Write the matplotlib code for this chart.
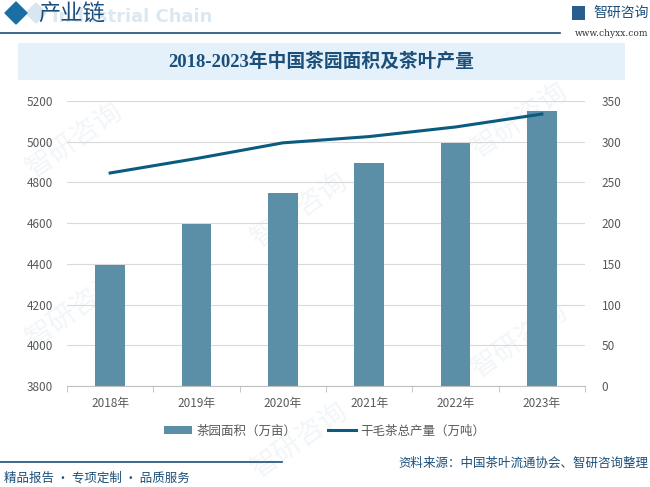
import matplotlib
matplotlib.use("Agg")
import matplotlib.pyplot as plt
from matplotlib.patches import Rectangle, Polygon
from matplotlib.lines import Line2D
import numpy as np

plt.rcParams['font.family'] = ['Noto Sans CJK SC', 'DejaVu Sans']

# data
years = ["2018年", "2019年", "2020年", "2021年", "2022年", "2023年"]
garden_area = [4395.6, 4597.87, 4747.69, 4896.09, 4995.41, 5149.76]   # 万亩
tea_output = [261.6, 279.34, 298.6, 306.32, 318.1, 333.95]             # 万吨
left_ticks = [3800, 4000, 4200, 4400, 4600, 4800, 5000, 5200]
right_ticks = [0, 50, 100, 150, 200, 250, 300, 350]

BAR_COLOR = "#5b8fa7"
LINE_COLOR = "#0b5b80"
DARK_BLUE = "#1b4f7a"
TEXT_GRAY = "#595959"

W, H = 650, 487
fig = plt.figure(figsize=(W / 100, H / 100), dpi=100)
fig.patch.set_facecolor("white")


def fx(px):
    return px / W


def fy(py):
    return 1 - py / H


# faint watermarks (behind the axes)
for (wx, wy) in [(75, 140), (75, 310), (300, 210), (300, 440), (520, 120), (520, 340)]:
    fig.text(fx(wx), fy(wy), "智研咨询", fontsize=20, color="#f2f6f9", rotation=35,
             ha="center", va="center", zorder=-5)

# header
fig.patches.append(Polygon([[fx(26), fy(13)], [fx(36), fy(3)], [fx(46), fy(13)], [fx(36), fy(23)]],
                           closed=True, transform=fig.transFigure, color="#d8e6f0", zorder=1))
fig.patches.append(Polygon([[fx(5), fy(13)], [fx(16), fy(2)], [fx(27), fy(13)], [fx(16), fy(24)]],
                           closed=True, transform=fig.transFigure, color="#1a6fa5", zorder=2))
fig.text(fx(52), fy(17), "Industrial Chain", fontsize=13, fontweight="bold", color="#dce8f1",
         ha="left", va="center", zorder=1, family="DejaVu Sans")
fig.text(fx(38), fy(14), "产业链", fontsize=16, color=DARK_BLUE, ha="left", va="center", zorder=3)
fig.lines.append(Line2D([0, fx(560)], [fy(33), fy(33)], transform=fig.transFigure,
                        color=DARK_BLUE, lw=1.2))
fig.text(fx(593), fy(13), "智研咨询", fontsize=10, color=DARK_BLUE, ha="left", va="center")
fig.patches.append(Rectangle((fx(572), fy(20)), fx(13), 14 / H, transform=fig.transFigure,
                             facecolor="#2a5d8f", edgecolor="none"))
fig.text(fx(648), fy(33), "www.chyxx.com", fontsize=6.5, color="#333333", ha="right", va="center",
         family="DejaVu Serif")

# title box
fig.patches.append(Rectangle((fx(18), fy(80)), fx(607), 37 / H, transform=fig.transFigure,
                             facecolor="#e5f1fa", edgecolor="none", zorder=0))
fig.text(fx(321), fy(62), "2018-2023年中国茶园面积及茶叶产量", fontsize=13.5, fontweight="bold",
         color=DARK_BLUE, ha="center", va="center", family=["Liberation Serif", "Noto Sans CJK SC"])

# main axes
ax = fig.add_axes([fx(67), fy(386), fx(585 - 67), (386 - 101) / H])
ax.set_facecolor("none")
x = np.arange(len(years))
ax.bar(x, garden_area, width=0.34, color=BAR_COLOR, zorder=2, label="茶园面积（万亩）")
ax.set_ylim(3800, 5200)
ax.set_yticks(left_ticks)
ax.set_xlim(-0.5, len(years) - 0.5)
ax.set_xticks(x)
ax.set_xticklabels(years)
ax.set_xticks(np.arange(-0.5, len(years), 1), minor=True)
ax.tick_params(axis="x", which="major", length=0, pad=8, labelsize=8.5, labelcolor=TEXT_GRAY)
ax.tick_params(axis="x", which="minor", length=4, color="#bfbfbf")
ax.tick_params(axis="y", length=0, pad=10, labelsize=8.5, labelcolor=TEXT_GRAY)
ax.grid(axis="y", color="#d9d9d9", lw=0.8, zorder=0)
for s in ["top", "right", "left"]:
    ax.spines[s].set_visible(False)
ax.spines["bottom"].set_color("#bfbfbf")

ax2 = ax.twinx()
ax2.plot(x, tea_output, color=LINE_COLOR, lw=2.2, zorder=3, label="干毛茶总产量（万吨）")
ax2.set_ylim(0, 350)
ax2.set_yticks(right_ticks)
ax2.tick_params(axis="y", length=0, pad=12, labelsize=8.5, labelcolor=TEXT_GRAY)
for s in ["top", "right", "left", "bottom"]:
    ax2.spines[s].set_visible(False)

# legend
h1, l1 = ax.get_legend_handles_labels()
h2, l2 = ax2.get_legend_handles_labels()
fig.legend(h1 + h2, l1 + l2, loc="center", bbox_to_anchor=(fx(325), fy(431)), ncol=2,
           frameon=False, fontsize=9, labelcolor=TEXT_GRAY, handlelength=2.2,
           handleheight=0.6, columnspacing=2.5, handletextpad=0.4)

# footer
fig.lines.append(Line2D([0, fx(282)], [fy(462), fy(462)], transform=fig.transFigure,
                        color=DARK_BLUE, lw=1.2))
fig.text(fx(4), fy(478), "精品报告 · 专项定制 · 品质服务", fontsize=9, color=DARK_BLUE,
         ha="left", va="center")
fig.text(fx(648), fy(463), "资料来源：中国茶叶流通协会、智研咨询整理", fontsize=9, color=DARK_BLUE,
         ha="right", va="center")

fig.savefig("out.png", dpi=100)
